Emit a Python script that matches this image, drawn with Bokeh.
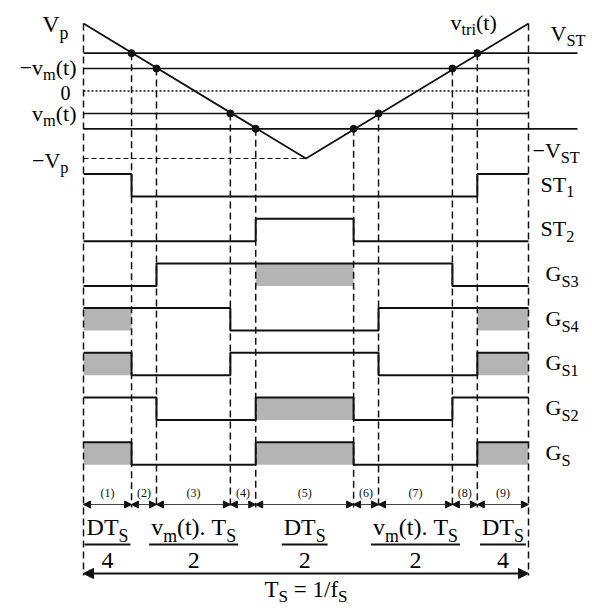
from bokeh.plotting import figure
from bokeh.models import Range1d, Arrow, NormalHead
from bokeh.core.properties import value
from bokeh.embed import file_html
from bokeh.resources import INLINE

# ---------------- data ----------------
# switching instants, fraction of the switching period Ts
edge_t = [0.0, 0.108, 0.164, 0.330, 0.387, 0.607, 0.663, 0.829, 0.885, 1.0]
# carrier (triangle), normalised to Vp
tri_t = [0.0, 0.5, 1.0]
tri_v = [1.0, -1.0, 1.0]
V_ST = 0.56      # shoot-through reference
V_M = 0.333      # |vm(t)|
# level of each trace in each of the 9 intervals
row_names = ["ST1", "ST2", "GS3", "GS4", "GS1", "GS2", "GS"]
levels = {
    "ST1": [1, 0, 0, 0, 0, 0, 0, 0, 1],
    "ST2": [0, 0, 0, 0, 1, 0, 0, 0, 0],
    "GS3": [0, 0, 1, 1, 1, 1, 1, 0, 0],
    "GS4": [1, 1, 1, 0, 0, 0, 1, 1, 1],
    "GS1": [1, 0, 0, 1, 1, 1, 0, 0, 1],
    "GS2": [1, 1, 0, 0, 1, 0, 0, 1, 1],
    "GS":  [1, 0, 0, 0, 1, 0, 0, 0, 1],
}
# shoot-through intervals shaded grey
shaded = {
    "ST1": [], "ST2": [],
    "GS3": [4], "GS4": [0, 8], "GS1": [0, 8], "GS2": [4], "GS": [0, 4, 8],
}
row_labels = {
    "ST1": [("ST", 0), ("1", 1)],
    "ST2": [("ST", 0), ("2", 1)],
    "GS3": [("G", 0), ("S3", 1)],
    "GS4": [("G", 0), ("S4", 1)],
    "GS1": [("G", 0), ("S1", 1)],
    "GS2": [("G", 0), ("S2", 1)],
    "GS":  [("G", 0), ("S", 1)],
}
crossing_levels = [V_ST, V_M, -V_M, -V_ST, -V_ST, -V_M, V_M, V_ST]
segment_tags = ["(1)", "(2)", "(3)", "(4)", "(5)", "(6)", "(7)", "(8)", "(9)"]
# duration annotations: (first interval, last interval, numerator, denominator)
durations = [
    (0, 0, [("DT", 0), ("S", 1)], "4"),
    (1, 3, [("v", 0), ("m", 1), ("(t).\u00a0T", 0), ("S", 1)], "2"),
    (4, 4, [("DT", 0), ("S", 1)], "2"),
    (5, 7, [("v", 0), ("m", 1), ("(t).\u00a0T", 0), ("S", 1)], "2"),
    (8, 8, [("DT", 0), ("S", 1)], "4"),
]

# ---------------- layout (pixels) ----------------
W, H = 592, 610
X0, XW = 83.0, 445.0          # t=0 and width of Ts
Y0, YA = 90.5, 67.5           # v=0 and Vp amplitude
ROW_LOW0, ROW_PITCH, ROW_AMP = 196.0, 44.7, 22.5


def X(px):
    return (px - X0) / XW


def Y(py):
    return (Y0 - py) / YA


def PX(t):
    return X0 + t * XW


FONT = "Liberation Serif"
SUB = 0.74
DROP = 0.27
MID = 0.34
CW = {'V': 0.722, 'p': 0.5, 'S': 0.556, 'T': 0.611, 'G': 0.722, 'D': 0.722, 'v': 0.5,
      'm': 0.778, 't': 0.278, 'r': 0.333, 'i': 0.278, '(': 0.333, ')': 0.333, '.': 0.25,
      ' ': 0.25, '\u00a0': 0.25, '=': 0.564, '/': 0.278, 'f': 0.333, '\u2212': 0.564}


def tw(s, size):
    return sum(CW.get(c, 0.5) for c in s) * size


p = figure(width=W, height=H, x_range=Range1d(X(0), X(W)), y_range=Range1d(Y(H), Y(0)),
           output_backend="svg", toolbar_location=None, min_border=0,
           x_axis_location=None, y_axis_location=None)
p.grid.visible = False
p.outline_line_color = None
p.background_fill_color = "white"
p.border_fill_color = "white"


def rich(x_px, yb_px, parts, size, align="left", color="black", drop=DROP):
    widths = [tw(t, size * (SUB if s else 1)) for t, s in parts]
    total = sum(widths)
    if align == "right":
        cx = x_px - total
    elif align == "center":
        cx = x_px - total / 2
    else:
        cx = x_px
    for (t, s), w in zip(parts, widths):
        fs = size * SUB if s else size
        yb = yb_px + (drop * size if s else 0)
        p.text(x=[X(cx)], y=[Y(yb - MID * fs)], text=[t], text_font=value(FONT),
               text_font_size=f"{fs:.1f}px", text_align="left",
               text_baseline="middle", text_color=color)
        cx += w
    return total


BLACK = "#111111"
DASH = "7 4"

# ---- shaded pulses ----
for i, name in enumerate(row_names):
    low = ROW_LOW0 + i * ROW_PITCH
    for k in shaded[name]:
        p.quad(left=[edge_t[k]], right=[edge_t[k + 1]], bottom=[Y(low)], top=[Y(low - ROW_AMP)],
               fill_color="#b4b4b4", line_color=None)

# ---- vertical dashed guides ----
p.segment(x0=[edge_t[0], edge_t[-1]], y0=[tri_v[0], tri_v[-1]],
          x1=[edge_t[0], edge_t[-1]], y1=[Y(575), Y(575)],
          line_color=BLACK, line_width=1.5, line_dash=DASH)
p.segment(x0=edge_t[1:-1], y0=crossing_levels, x1=edge_t[1:-1], y1=[Y(507)] * 8,
          line_color=BLACK, line_width=1.5, line_dash=DASH)

# ---- reference lines ----
p.segment(x0=[0, 0], y0=[V_ST, -V_ST], x1=[X(577), X(577)], y1=[V_ST, -V_ST],
          line_color=BLACK, line_width=1.8)
p.segment(x0=[0, 0], y0=[V_M, -V_M], x1=[1, 1], y1=[V_M, -V_M],
          line_color=BLACK, line_width=1.6)
p.segment(x0=[0], y0=[0], x1=[1], y1=[0], line_color=BLACK, line_width=1.6, line_dash="2 2")
p.segment(x0=[0], y0=[-1], x1=[0.5], y1=[-1], line_color=BLACK, line_width=1.2, line_dash="5 3")

# ---- carrier ----
p.line(tri_t, tri_v, line_color=BLACK, line_width=1.8)
p.scatter(edge_t[1:-1], crossing_levels, size=7, color=BLACK)

# ---- logic traces ----
for i, name in enumerate(row_names):
    low = ROW_LOW0 + i * ROW_PITCH
    xs, ys = [], []
    for k, lv in enumerate(levels[name]):
        yy = Y(low - ROW_AMP * lv)
        xs += [edge_t[k], edge_t[k + 1]]
        ys += [yy, yy]
    p.line(xs, ys, line_color=BLACK, line_width=2.0)
    lx = 540 if name.startswith("ST") else 545
    rich(lx, low - 5, row_labels[name], 22)

# ---- interval arrows ----
ya = Y(504)
for k in range(9):
    p.add_layout(Arrow(x_start=edge_t[k], y_start=ya, x_end=edge_t[k + 1], y_end=ya,
                       line_color="#444444", line_width=1.2,
                       start=NormalHead(size=7, fill_color=BLACK, line_color=BLACK, line_width=1),
                       end=NormalHead(size=7, fill_color=BLACK, line_color=BLACK, line_width=1)))
    xc = (edge_t[k] + edge_t[k + 1]) / 2
    p.text(x=[xc], y=[Y(492)], text=[segment_tags[k]], text_font=value(FONT),
           text_font_size="12px", text_align="center", text_baseline="middle", text_color=BLACK)

# ---- duration fractions ----
for a, b, num, den in durations:
    xc = PX((edge_t[a] + edge_t[b + 1]) / 2)
    wnum = rich(xc, 535, num, 24, align="center")
    half = wnum / 2 + 2
    p.segment(x0=[X(xc - half)], y0=[Y(544)], x1=[X(xc + half)], y1=[Y(544)],
              line_color=BLACK, line_width=2)
    rich(xc, 568, [(den, 0)], 24, align="center")

# ---- period arrow ----
p.add_layout(Arrow(x_start=edge_t[0], y_start=Y(573), x_end=edge_t[-1], y_end=Y(573),
                   line_color=BLACK, line_width=1.8,
                   start=NormalHead(size=10, fill_color=BLACK, line_color=BLACK),
                   end=NormalHead(size=10, fill_color=BLACK, line_color=BLACK)))
rich(PX(0.5), 597, [("T", 0), ("S", 1), ("\u00a0=\u00a01/f", 0), ("S", 1)], 23,
     align="center", drop=0.2)

# ---- analog labels ----
rich(68, 32, [("V", 0), ("p", 1)], 24, align="right")
rich(76, 74, [("\u2212v", 0), ("m", 1), ("(t)", 0)], 22, align="right")
rich(65, 99, [("0", 0)], 20, align="center")
rich(76, 120, [("v", 0), ("m", 1), ("(t)", 0)], 22, align="right")
rich(68, 167, [("\u2212V", 0), ("p", 1)], 22, align="right")
rich(450, 29, [("v", 0), ("tri", 1), ("(t)", 0)], 22)
rich(550, 40, [("V", 0), ("ST", 1)], 22)
rich(532, 157, [("\u2212V", 0), ("ST", 1)], 22)

open("out.html", "w").write(file_html(p, INLINE))
